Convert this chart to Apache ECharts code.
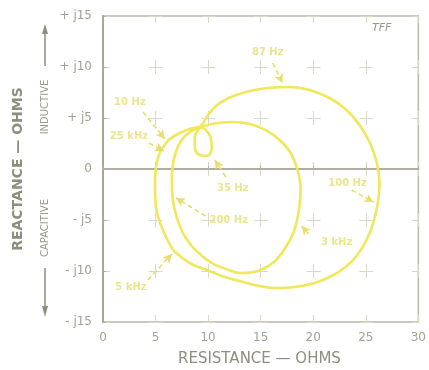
<!DOCTYPE html>
<html><head><meta charset="utf-8">
<script src="https://cdn.jsdelivr.net/npm/echarts@6/dist/echarts.min.js"></script>
<style>html,body{margin:0;padding:0;background:#fff}#c{width:429px;height:370px}</style>
</head><body><div id="c"></div>
<script>
// Axis ticks
const xTickValues = [0, 5, 10, 15, 20, 25, 30];
const xTickLabels = ['0', '5', '10', '15', '20', '25', '30'];
const yTickValues = [-15, -10, -5, 0, 5, 10, 15];
const yTickLabels = ['- j15', '- j10', '- j5', '0', '+ j5', '+ j10', '+ j15'];

// Impedance locus 1 (outer circle with small loop): [resistance, reactance]
const outerLocus = [
  [6.65,-7.94],[5.70,-5.98],[5.05,-3.80],[4.94,-1.57],[5.03,0.10],[5.32,1.37],[5.79,2.25],
  [6.36,2.94],[7.31,3.53],[8.26,3.92],[9.11,4.12],
  [9.78,3.82],[10.25,3.04],[10.35,2.06],[9.87,1.27],[9.21,1.37],[8.73,2.16],[8.73,3.14],
  [9.11,3.92],[9.59,4.61],[10.06,5.39],[10.73,6.18],[11.58,6.76],[12.53,7.20],[13.96,7.65],
  [15.67,7.94],[17.75,8.04],[19.65,7.75],[21.55,6.96],[23.17,5.78],[24.40,4.31],[25.40,2.55],
  [26.05,0.59],[26.30,-1.40],[26.15,-3.30],[25.73,-5.20],[25.06,-6.96],[24.11,-8.53],
  [23.07,-9.61],[21.74,-10.49],[20.13,-11.18],[18.23,-11.57],[16.33,-11.67],[14.43,-11.37],
  [13.01,-10.98],[11.58,-10.59],[9.87,-9.90],[8.26,-9.22],[6.65,-7.94]
];
// Impedance locus 2 (inner circle)
const innerLocus = [
  [9.59,4.22],[8.26,3.63],[7.41,2.75],[6.93,1.67],[6.65,0.39],[6.55,-1.08],[6.65,-3.04],
  [7.03,-4.80],[7.60,-6.27],[8.35,-7.45],[9.21,-8.33],[10.35,-9.22],[11.68,-9.80],
  [13.20,-10.20],[14.72,-10.00],[16.14,-9.22],[17.28,-7.84],[18.13,-6.18],[18.61,-4.22],
  [18.80,-2.06],[18.51,-0.10],[17.85,1.57],[16.80,2.84],[15.48,3.82],[13.96,4.41],
  [12.44,4.61],[10.92,4.51],[9.59,4.22]
];

// Frequency annotations
const freqNames = ['87 Hz', '10 Hz', '25 kHz', '35 Hz', '200 Hz', '100 Hz', '3 kHz', '5 kHz'];
const freqLabelPos = [[15.67,11.47],[2.56,6.57],[2.47,3.24],[12.34,-1.86],[11.96,-5.0],[23.26,-1.37],[22.22,-7.16],[2.66,-11.57]];
const arrowFrom = [[16.14,10.39],[3.80,5.59],[4.37,2.55],[11.68,-0.78],[9.78,-4.61],[23.64,-2.06],[19.56,-6.37],[4.27,-10.88]];
const arrowTo = [[17.09,8.43],[5.89,2.94],[5.79,1.76],[10.63,0.88],[6.93,-2.84],[25.73,-3.24],[18.89,-5.59],[6.55,-8.33]];

const yellow = '#f0e75a';
const labelYellow = '#e6de6e';
const gray = '#a2a294';

const chart = echarts.init(document.getElementById('c'), null, {renderer: 'canvas'});
const yLabelMap = {};
yTickValues.forEach((v, i) => yLabelMap[v] = yTickLabels[i]);
const xLabelMap = {};
xTickValues.forEach((v, i) => xLabelMap[v] = xTickLabels[i]);

const gridLineX = {color: '#dcd8c8', width: 1, type: [14, 37], dashOffset: 7};
const gridLineY = {color: '#dcd8c8', width: 1, type: [14, 38.65], dashOffset: 7};

chart.setOption({
  animation: false,
  backgroundColor: '#ffffff',
  grid: {left: 103, right: 10, top: 16, bottom: 48, show: true, borderColor: '#b8b8aa', borderWidth: 1.5, backgroundColor: 'transparent'},
  xAxis: {
    type: 'value', min: 0, max: 30, interval: 5,
    axisLine: {lineStyle: {color: '#b0aea0', width: 2}},
    axisTick: {show: true, inside: true, length: 3, lineStyle: {color: '#b0aea0'}},
    splitLine: {show: true, lineStyle: gridLineX},
    axisLabel: {color: gray, fontSize: 12, margin: 10, fontFamily: 'DejaVu Sans', formatter: v => xLabelMap[v] ?? ''}
  },
  yAxis: {
    type: 'value', min: -15, max: 15, interval: 5,
    axisLine: {show: true, lineStyle: {color: '#a8a698', width: 2}},
    axisTick: {show: true, inside: true, length: 3, lineStyle: {color: '#b0aea0'}},
    splitLine: {show: true, lineStyle: gridLineY},
    axisLabel: {color: gray, fontSize: 12, margin: 11, fontFamily: 'DejaVu Sans', formatter: v => yLabelMap[v] ?? ''}
  },
  series: [
    {type: 'line', data: outerLocus, smooth: 0.4, showSymbol: false, lineStyle: {color: yellow, width: 2.6}, z: 3},
    {type: 'line', data: innerLocus, smooth: 0.4, showSymbol: false, lineStyle: {color: yellow, width: 2.6}, z: 3,
      markLine: {
        silent: true, animation: false,
        symbol: ['none', 'arrow'], symbolSize: [7, 9],
        lineStyle: {color: labelYellow, width: 1.6, type: [5, 3]},
        label: {show: false},
        data: arrowFrom.map((p, i) => [{coord: p}, {coord: arrowTo[i]}])
      }
    },
    {type: 'scatter', symbolSize: 0, z: 4,
      data: freqNames.map((n, i) => ({name: n, value: freqLabelPos[i]})),
      label: {show: true, position: 'inside', formatter: p => p.name, color: labelYellow, fontSize: 10, fontWeight: 'bold', fontFamily: 'DejaVu Sans'}
    }
  ],
  graphic: [
    {type: 'text', left: 178, top: 352, style: {text: 'RESISTANCE — OHMS', fill: '#8e8e7e', font: '15px "DejaVu Sans"'}},
    {type: 'text', x: 18, y: 169, rotation: Math.PI / 2, style: {text: 'REACTANCE — OHMS', fill: '#8e8e7e', font: 'bold 14px "DejaVu Sans"', align: 'center', verticalAlign: 'middle'}},
    {type: 'text', x: 45, y: 107, rotation: Math.PI / 2, style: {text: 'INDUCTIVE', fill: '#9a9a8a', font: '10px "DejaVu Sans"', align: 'center', verticalAlign: 'middle'}},
    {type: 'text', x: 45, y: 228, rotation: Math.PI / 2, style: {text: 'CAPACITIVE', fill: '#9a9a8a', font: '10px "DejaVu Sans"', align: 'center', verticalAlign: 'middle'}},
    {type: 'line', shape: {x1: 45, y1: 66, x2: 45, y2: 32}, style: {stroke: '#8e8e7e', lineWidth: 1.5}},
    {type: 'polygon', shape: {points: [[45, 24], [42, 34], [48, 34]]}, style: {fill: '#8e8e7e'}},
    {type: 'line', shape: {x1: 45, y1: 268, x2: 45, y2: 308}, style: {stroke: '#8e8e7e', lineWidth: 1.5}},
    {type: 'polygon', shape: {points: [[45, 317], [42, 306], [48, 306]]}, style: {fill: '#8e8e7e'}},
    {type: 'text', left: 372, top: 23, style: {text: 'TFF', fill: '#9a9a8a', font: 'italic 11px "DejaVu Sans"'}}
  ]
});
</script></body></html>
